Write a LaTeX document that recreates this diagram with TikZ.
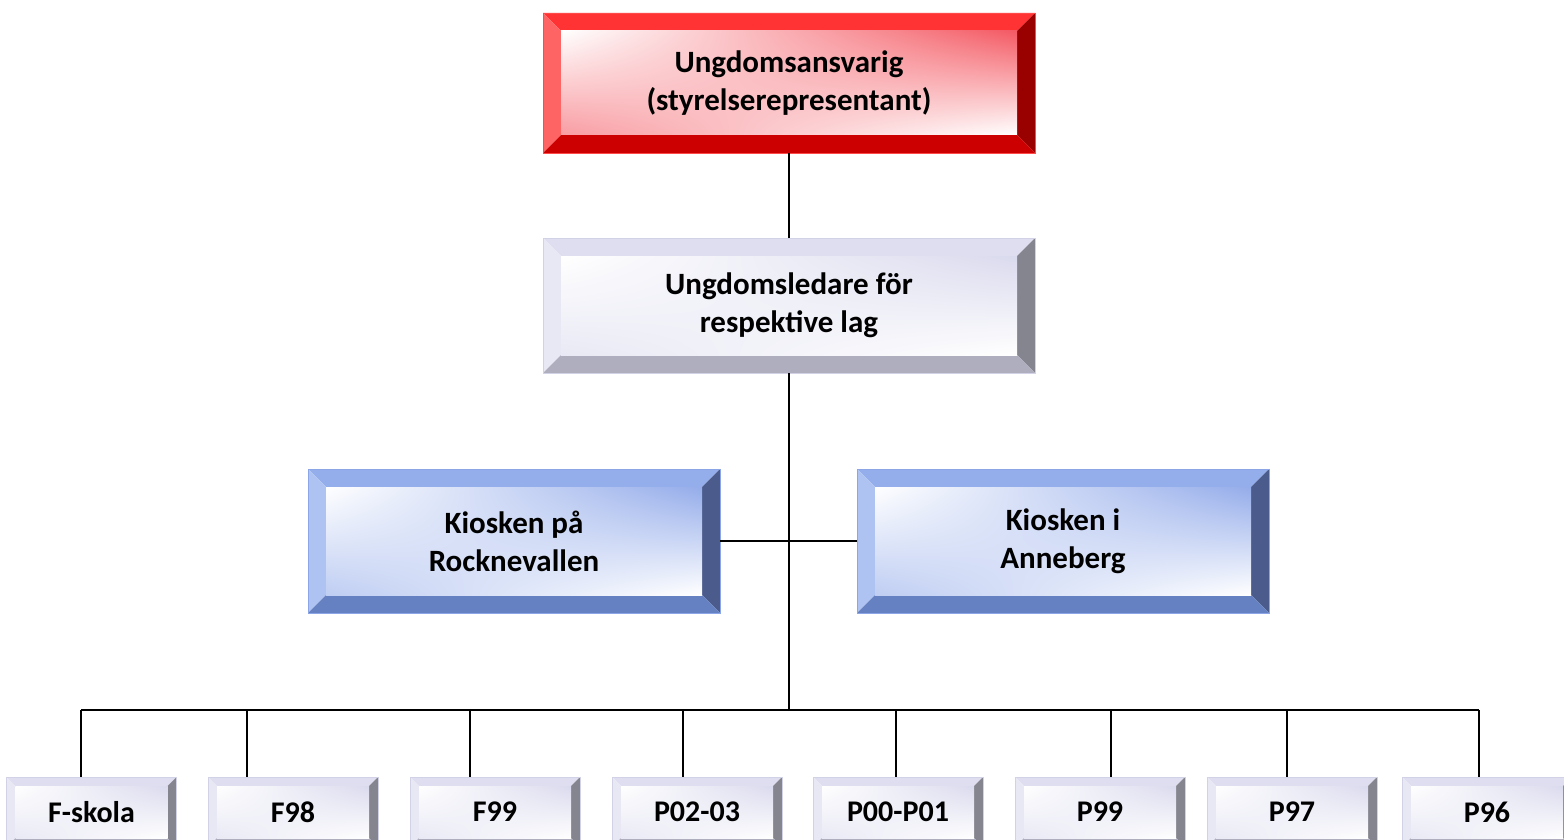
\documentclass[tikz,border=0pt]{standalone}
\usepackage{fontspec}
\setmainfont{Carlito}
\usetikzlibrary{calc,shadings}

\definecolor{redtop}{HTML}{FF3333}
\definecolor{redleft}{HTML}{FF6464}
\definecolor{redright}{HTML}{990000}
\definecolor{redbottom}{HTML}{CC0000}
\definecolor{redtint}{HTML}{F45A64}
\definecolor{redline}{HTML}{FF4A4A}
\definecolor{graytop}{HTML}{DEDEF0}
\definecolor{grayleft}{HTML}{E8E8F4}
\definecolor{grayright}{HTML}{85858F}
\definecolor{graybottom}{HTML}{AEAEBE}
\definecolor{graytint}{HTML}{DADAEE}
\definecolor{grayline}{HTML}{D2D2E6}
\definecolor{bluetop}{HTML}{94ADEB}
\definecolor{blueleft}{HTML}{AFC3F2}
\definecolor{blueright}{HTML}{4B5B8C}
\definecolor{bluebottom}{HTML}{6681C2}
\definecolor{bluetint}{HTML}{94ACEA}
\definecolor{blueline}{HTML}{8CA5E6}

\newcommand\bevelfaces[6]{%
    \coordinate (bnw) at (path picture bounding box.north west);
    \coordinate (bne) at (path picture bounding box.north east);
    \coordinate (bse) at (path picture bounding box.south east);
    \coordinate (bsw) at (path picture bounding box.south west);
    \coordinate (inw) at ($(bnw)+(#1,#1)$);
    \coordinate (ine) at ($(bne)+(-#1,#1)$);
    \coordinate (ise) at ($(bse)+(-#1,-#1)$);
    \coordinate (isw) at ($(bsw)+(#1,-#1)$);
    \fill [#2] (bnw) -- (bne) -- (ine) -- (inw) -- cycle;
    \fill [#3] (bnw) -- (inw) -- (isw) -- (bsw) -- cycle;
    \fill [#4] (bne) -- (bse) -- (ise) -- (ine) -- cycle;
    \fill [#5] (bsw) -- (isw) -- (ise) -- (bse) -- cycle;
    \shade [lower left=#6!60, upper right=#6, upper left=white, lower right=white] (inw) rectangle (ise);
}

\tikzset{
    bevel/.style n args={7}{rectangle, inner sep=0pt, align=center, draw=#7, line width=0.8pt,
        path picture={\bevelfaces{#1}{#2}{#3}{#4}{#5}{#6}}},
    bigtext/.style={font=\fontsize{31}{38}\selectfont\bfseries},
    redbox/.style={bevel={18}{redtop}{redleft}{redright}{redbottom}{redtint}{redline},
        bigtext, minimum width=492pt, minimum height=140pt},
    graybox/.style={bevel={18}{graytop}{grayleft}{grayright}{graybottom}{graytint}{grayline},
        bigtext, minimum width=492pt, minimum height=135pt},
    bluebox/.style={bevel={18}{bluetop}{blueleft}{blueright}{bluebottom}{bluetint}{blueline},
        bigtext, minimum width=412pt, minimum height=144pt},
    lagbox/.style={bevel={9}{graytop}{grayleft}{grayright}{graybottom}{graytint}{grayline},
        font=\fontsize{30}{36}\selectfont\bfseries, minimum width=170pt, minimum height=70pt},
}

\begin{document}
\begin{tikzpicture}[x=1pt, y=-1pt, line width=1.8pt]
    \useasboundingbox (0,0) rectangle (1564,840);
    \clip (0,0) rectangle (1564,840);
    \node [redbox] (ansvarig) at (789,83) {Ungdomsansvarig\\(styrelserepresentant)};
    \node [graybox] (ledare) at (789,305.5) {Ungdomsledare för\\respektive lag};
    \node [bluebox] (kioskR) at (514,541) {Kiosken på\\Rocknevallen};
    \node [bluebox] (kioskA) at (1063,541) {Kiosken i\\Anneberg};
    \foreach \lbl/\cx/\tx [count=\i] in {F-skola/91.5/81, F98/293/247, F99/495/470, P02-03/697/683,
            P00-P01/898/896, P99/1100/1111, P97/1292/1287, P96/1487/1479} {
        \node [lagbox] (lag\i) at (\cx,812) {\lbl};
        \coordinate (bus\i) at (\tx,710);
        \draw (bus\i) -- (bus\i |- lag\i.north);
    }
    \draw (bus1) -- (bus8);
    \draw (ansvarig.south) -- (ledare.north);
    \draw (ledare.south) -- (ledare.south |- bus1);
    \draw (kioskR.east) -- (kioskA.west);
\end{tikzpicture}
\end{document}
